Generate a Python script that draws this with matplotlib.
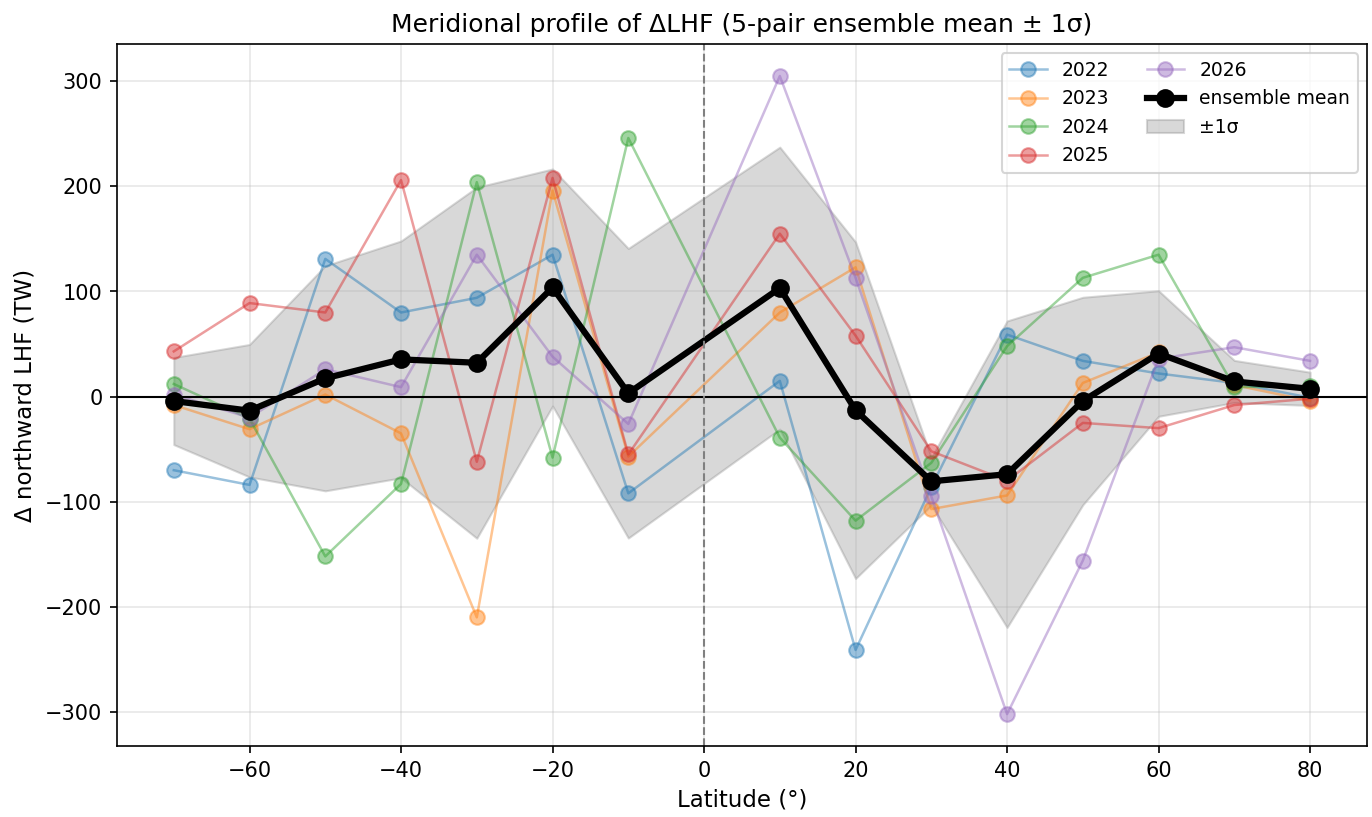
import numpy as np
from matplotlib import pyplot as plt

# latitudes of the profile points (no point on the equator)
lat = np.array([-70, -60, -50, -40, -30, -20, -10, 10, 20, 30, 40, 50, 60, 70, 80])

years = ['2022', '2023', '2024', '2025', '2026']

d2022 = [-70, -84, 131, 80, 94, 135, -92, 15, -241, -86, 59, 34, 22, 13, -1]
d2023 = [-8, -31, 2, -35, -210, 196, -57, 80, 123, -107, -94, 13, 42, 11, -4]
d2024 = [12, -21, -152, -83, 204, -58, 246, -39, -118, -63, 48, 113, 135, 9, 10]
d2025 = [43, 89, 80, 206, -62, 208, -55, 155, 58, -52, -80, -25, -30, -8, -2]
d2026 = [2, -20, 26, 9, 135, 38, -26, 305, 113, -95, -302, -156, 36, 47, 34]

members = np.array([d2022, d2023, d2024, d2025, d2026], dtype=float)
mean = members.mean(axis=0)
sigma = members.std(axis=0, ddof=1)

fig = plt.figure(figsize=(9.153, 5.447), dpi=150)
ax = fig.add_axes([0.0852, 0.0869, 0.9104, 0.8591])

for i in range(len(years)):
    ax.plot(lat, members[i], '-o', color='C%d' % i, lw=1.2, ms=7, alpha=0.45, label=years[i])

ax.plot(lat, mean, '-o', color='black', lw=3, ms=8, label='ensemble mean')

# grey band = ensemble spread (drawn under the lines)
ax.fill_between(lat, mean - sigma, mean + sigma, color='gray', alpha=0.3, zorder=1, label='±1σ')

ax.axhline(0, color='black', lw=1)
ax.axvline(0, color='gray', ls='--', lw=1)
ax.grid(True, alpha=0.3)

ax.set_xlabel('Latitude (°)', fontsize=11)
ax.set_ylabel('Δ northward LHF (TW)', fontsize=11)
ax.set_title('Meridional profile of ΔLHF (5-pair ensemble mean ± 1σ)', fontsize=12)
ax.legend(loc='upper right', ncol=2, fontsize=9)

fig.savefig('out.png', dpi=150)
